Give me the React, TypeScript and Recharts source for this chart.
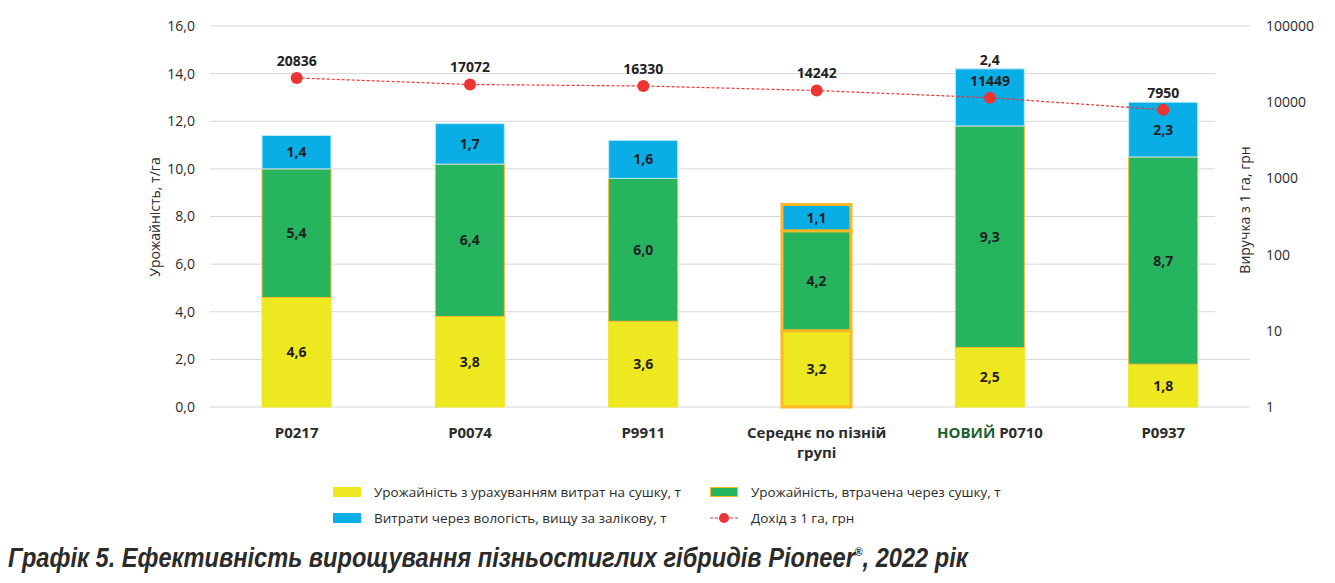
import { ComposedChart, Bar, Line, XAxis, YAxis, CartesianGrid, LabelList, Cell } from 'recharts';

const categories = ['P0217', 'P0074', 'P9911', 'Середнє по пізній групі', 'НОВИЙ P0710', 'P0937'];
const yieldAfterDrying = [4.6, 3.8, 3.6, 3.2, 2.5, 1.8];
const yieldLostDrying = [5.4, 6.4, 6.0, 4.2, 9.3, 8.7];
const moistureLoss = [1.4, 1.7, 1.6, 1.1, 2.4, 2.3];
const income = [20836, 17072, 16330, 14242, 11449, 7950];
const leftTicks = [0, 2, 4, 6, 8, 10, 12, 14, 16];
const rightTicks = [1, 10, 100, 1000, 10000, 100000];

const data = categories.map((name, i) => ({
  name,
  dry: yieldAfterDrying[i],
  lost: yieldLostDrying[i],
  moisture: moistureLoss[i],
  income: income[i],
}));

const FONT = "'Open Sans', sans-serif";
const TEXT = '#2b2b2b';
const YELLOW = '#eee821';
const GREEN = '#26b45f';
const BLUE = '#0aaee6';
const ORANGE = '#fdb827';
const RED = '#ee3333';
const AVG_INDEX = 3;
const PLOT_TOP = 18;
const PLOT_BOTTOM = 399;

const comma = (v: number) => v.toFixed(1).replace('.', ',');

function XTick(props: any) {
  const { x, payload } = props;
  const label: string = payload.value;
  const base = PLOT_BOTTOM + 31;
  const style = { fontFamily: FONT, fontSize: 15, fontWeight: 700, fill: TEXT };
  if (label.startsWith('НОВИЙ')) {
    return (
      <text x={x} y={base} textAnchor="middle" style={style}>
        <tspan fill="#17622f">НОВИЙ</tspan>
        <tspan> {label.replace('НОВИЙ ', '')}</tspan>
      </text>
    );
  }
  if (label.startsWith('Середнє')) {
    return (
      <text x={x} y={base} textAnchor="middle" style={style}>
        <tspan x={x}>Середнє по пізній</tspan>
        <tspan x={x} dy={20}>групі</tspan>
      </text>
    );
  }
  return (
    <text x={x} y={base} textAnchor="middle" style={style}>
      {label}
    </text>
  );
}

function segmentLabel(aboveIndex: number) {
  return (props: any) => {
    const box = props.viewBox ?? props;
    const { x, y, width, height } = box;
    const cx = x + width / 2;
    const above = props.index === aboveIndex;
    const ty = above ? y - 9 : y + height / 2;
    return (
      <text
        x={cx}
        y={ty}
        dy={5}
        textAnchor="middle"
        style={{ fontFamily: FONT, fontSize: 14, fontWeight: 700, fill: '#222' }}
      >
        {comma(props.value)}
      </text>
    );
  };
}

function GridLine(props: any) {
  const { x1, x2, y1, y2 } = props;
  const shorten = y1 > PLOT_TOP + 8 && y1 < PLOT_BOTTOM - 70;
  return (
    <line key={`g-${y1}`} x1={x1} x2={shorten ? x2 - 35 : x2} y1={y1} y2={y2} stroke="#d6d6d6" strokeWidth={1} />
  );
}

function LegendRow({ top, left, swatch, text }: { top: number; left: number; swatch: any; text: string }) {
  return (
    <div style={{ position: 'absolute', top, left, height: 18, display: 'flex', alignItems: 'center' }}>
      <div style={{ width: 28, display: 'flex', justifyContent: 'center' }}>{swatch}</div>
      <span style={{ marginLeft: 13, fontFamily: FONT, fontSize: 13.5, color: TEXT, whiteSpace: 'nowrap' }}>{text}</span>
    </div>
  );
}

export default function App() {
  const box = (fill: string, border?: string) => (
    <div style={{ width: 28, height: 10, background: fill, boxSizing: 'border-box', border: border ? `1.5px solid ${border}` : 'none' }} />
  );
  const lineIcon = (
    <svg width={28} height={12}>
      <line x1={0} x2={28} y1={6} y2={6} stroke={RED} strokeWidth={1.2} strokeDasharray="3 2" />
      <circle cx={14} cy={6} r={5} fill={RED} />
    </svg>
  );
  return (
    <div style={{ position: 'relative', width: 1327, height: 575 }}>
      <ComposedChart width={1327} height={460} data={data} margin={{ top: PLOT_TOP, right: 5, bottom: 9, left: 122 }}>
        <CartesianGrid yAxisId="left" vertical={false} horizontal={GridLine} />
        <XAxis dataKey="name" height={52} tickLine={false} axisLine={false} interval={0} tick={<XTick />} />
        <YAxis
          yAxisId="left"
          width={80}
          domain={[0, 16]}
          ticks={leftTicks}
          tickFormatter={comma}
          tickLine={false}
          axisLine={false}
          tickMargin={9}
          tick={{ fontFamily: FONT, fontSize: 14, fill: TEXT }}
          label={{
            content: () => (
              <text
                x={147}
                y={209}
                transform="rotate(-90 147 209)"
                textAnchor="middle"
                dy={5}
                style={{ fontFamily: FONT, fontSize: 14, fill: TEXT }}
              >
                Урожайність, т/га
              </text>
            ),
          }}
        />
        <YAxis
          yAxisId="right"
          orientation="right"
          width={80}
          scale="log"
          domain={[1, 100000]}
          ticks={rightTicks}
          allowDataOverflow
          tickLine={false}
          axisLine={false}
          tickMargin={10}
          tick={{ fontFamily: FONT, fontSize: 14, fill: TEXT, textAnchor: 'start' }}
          label={{
            content: () => (
              <text
                x={1237}
                y={202}
                transform="rotate(-90 1237 202)"
                textAnchor="middle"
                dy={5}
                style={{ fontFamily: FONT, fontSize: 14, fill: TEXT }}
              >
                Виручка з 1 га, грн
              </text>
            ),
          }}
        />
        <Bar yAxisId="left" dataKey="dry" stackId="a" barSize={69} fill={YELLOW} isAnimationActive={false}>
          {data.map((_, i) => (
            <Cell key={`d${i}`} fill={YELLOW} stroke={i === AVG_INDEX ? ORANGE : YELLOW} strokeWidth={i === AVG_INDEX ? 3 : 1} />
          ))}
          <LabelList dataKey="dry" content={segmentLabel(-1)} />
        </Bar>
        <Bar yAxisId="left" dataKey="lost" stackId="a" barSize={69} fill={GREEN} isAnimationActive={false}>
          {data.map((_, i) => (
            <Cell key={`l${i}`} fill={GREEN} stroke={ORANGE} strokeWidth={i === AVG_INDEX ? 3 : 1} />
          ))}
          <LabelList dataKey="lost" content={segmentLabel(-1)} />
        </Bar>
        <Bar yAxisId="left" dataKey="moisture" stackId="a" barSize={69} fill={BLUE} isAnimationActive={false}>
          {data.map((_, i) => (
            <Cell key={`m${i}`} fill={BLUE} stroke={i === AVG_INDEX ? ORANGE : '#c3e8f6'} strokeWidth={i === AVG_INDEX ? 3 : 1} />
          ))}
          <LabelList dataKey="moisture" content={segmentLabel(4)} />
        </Bar>
        <Line
          yAxisId="right"
          dataKey="income"
          stroke={RED}
          strokeWidth={1.2}
          strokeDasharray="3 2"
          dot={{ r: 6, fill: RED, stroke: 'none' }}
          activeDot={false}
          isAnimationActive={false}
        >
          <LabelList
            dataKey="income"
            position="top"
            offset={12}
            style={{ fontFamily: FONT, fontSize: 14, fontWeight: 700, fill: '#222' }}
          />
        </Line>
      </ComposedChart>

      <LegendRow top={475} left={325} swatch={box(YELLOW)} text="Урожайність з урахуванням витрат на сушку, т" />
      <LegendRow top={475} left={702} swatch={box(GREEN, ORANGE)} text="Урожайність,  втрачена через сушку, т" />
      <LegendRow top={501} left={325} swatch={box(BLUE)} text="Витрати через вологість, вищу за залікову, т" />
      <LegendRow top={501} left={702} swatch={lineIcon} text="Дохід з 1 га, грн" />

      <div
        style={{
          position: 'absolute',
          top: 533,
          left: 0,
          fontFamily: "'Liberation Sans', sans-serif",
          fontSize: 27,
          fontWeight: 700,
          fontStyle: 'italic',
          color: '#2b2b2b',
          whiteSpace: 'nowrap',
          lineHeight: '34px',
          transform: 'scaleX(0.875)',
          transformOrigin: 'left center',
        }}
      >
        Графік 5. Ефективність вирощування пізньостиглих гібридів Pioneer
        <sup style={{ fontSize: 12, verticalAlign: 'top', lineHeight: '22px' }}>®</sup>, 2022 рік
      </div>
    </div>
  );
}
